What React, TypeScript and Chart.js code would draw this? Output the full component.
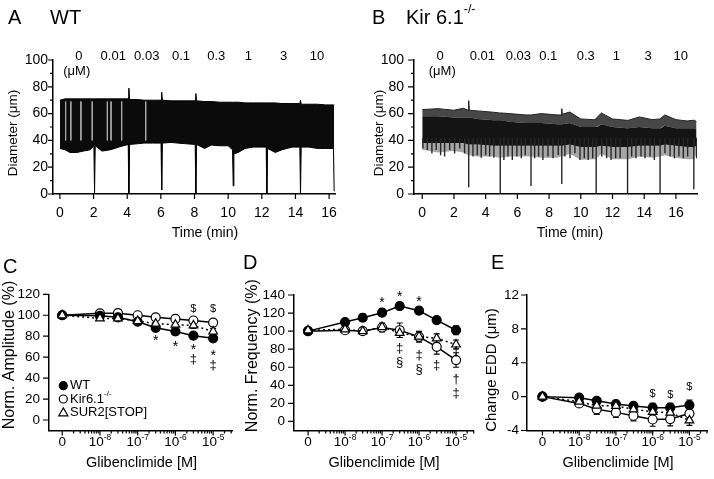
import React, { useEffect, useRef } from "react";
import { Chart, registerables } from "chart.js";

Chart.register(...registerables);

const FONT = '"Liberation Sans", Arial, Helvetica, sans-serif';

// ---------------- Panels A / B : diameter traces ----------------
const concLabels = ["0", "0.01", "0.03", "0.1", "0.3", "1", "3", "10"];
const concTimesA = [1.13, 3.17, 5.16, 7.2, 9.29, 11.2, 13.29, 15.28];
const concTimesB = [1.12, 3.79, 6.06, 7.95, 10.31, 12.24, 14.24, 16.3];
const concUnitTimeA = 1.0;
const concUnitTimeB = 1.26;
const timeTicks = [0, 2, 4, 6, 8, 10, 12, 14, 16];
const diamTicks = [0, 20, 40, 60, 80, 100];
const diamMinor = [10, 30, 50, 70, 90];

const timeA = [0, 0.3, 0.6, 1.0, 1.4, 1.8, 2.02, 2.06, 2.1, 2.5, 3.0, 3.5, 4.06, 4.1, 4.14, 4.6, 5.0, 5.5, 6.01, 6.05, 6.09, 6.6, 7.0, 7.5, 8.04, 8.08, 8.12, 8.6, 9.0, 9.5, 10.0, 10.26, 10.3, 10.34, 10.6, 11.0, 11.5, 12.26, 12.3, 12.34, 12.8, 13.2, 13.8, 14.26, 14.3, 14.34, 14.8, 15.3, 15.8, 16.26, 16.3];
const upperA = [70, 71, 71, 71, 71, 71, 71, 71, 71, 71, 71, 71, 71, 79, 70.5, 70.5, 70, 70, 70, 76, 70, 69.5, 69.5, 69.5, 69.5, 75, 69.5, 69, 69, 68.5, 68.5, 68.5, 68.5, 68.5, 68.5, 68, 68, 68, 68, 68, 68, 67.5, 67.5, 67.5, 70, 67, 67, 67, 66.5, 66.5, 66.5];
const lowerA = [34, 33, 31, 31, 32, 33, 36, 1, 36, 32, 33, 35, 37, 0, 37, 37.5, 38, 38, 38, 3, 38, 38.5, 38, 37.5, 37, 0, 37, 34, 36.5, 36, 36, 33, 6, 30, 31, 34, 35, 35, 0, 34, 31, 33, 35, 35, 0, 35, 35, 34, 34, 34, 2];
const lightLinesA = [0.34, 0.65, 1.25, 1.92, 2.82, 3.04, 3.67, 5.1];

const timeB = [0, 1.0, 2.0, 2.6, 2.89, 2.93, 2.97, 3.5, 4.5, 4.88, 4.92, 4.96, 5.5, 6.5, 6.82, 6.86, 6.9, 7.5, 8.5, 8.76, 8.8, 8.84, 9.3, 10.0, 10.8, 10.93, 10.97, 11.01, 11.3, 12.0, 12.91, 12.95, 12.99, 13.7, 14.5, 14.96, 15.0, 15.04, 15.3, 16.0, 16.7, 17.09, 17.13, 17.17, 17.3];
const peakB = [63, 63.7, 62.5, 64, 62.5, 69.7, 62.5, 62, 61, 60.5, 60.5, 60.5, 60, 59, 59, 59, 59, 60, 59, 59, 63.7, 59.5, 61.2, 56, 55.5, 56, 56, 57, 60.4, 56, 55, 55, 55, 57.5, 55.5, 56, 56, 56.5, 59, 55.5, 54.5, 55, 55, 55, 54];
const bandTopB = [58, 58, 57, 57, 57, 57, 57, 56, 55, 55, 55, 55, 54, 53, 53, 53, 53, 53, 52, 52, 52, 52, 53, 50, 50, 50, 50, 50, 52, 50, 49, 49, 49, 50, 49, 49, 49, 49, 51, 49, 49, 49, 49, 49, 48];
const bandBottomB = [38, 38, 38, 38, 37, 37, 37, 37, 36, 36, 36, 36, 36, 36, 36, 36, 36, 36, 36, 36, 36, 36, 37, 35, 35, 35, 35, 35, 36, 35, 35, 35, 35, 36, 36, 36, 36, 36, 37, 36, 35, 35, 35, 35, 36];
const troughB = [33, 31, 32, 31, 29, 29, 29, 28, 28, 27, 27, 27, 28, 28, 28, 28, 28, 27, 27, 28, 28, 28, 30, 25.5, 26, 26, 26, 27, 30, 26, 26, 26, 26, 28, 27, 28, 28, 28, 29, 27, 26, 26, 26, 26, 30];
// individual constriction strokes of the Kir6.1-/- trace (time, lowest diameter)
const strokeTimeB = [0.04, 0.32, 0.61, 0.88, 1.16, 1.41, 1.73, 2.04, 2.36, 2.67, 2.93, 3.2, 3.47, 3.72, 4.0, 4.25, 4.52, 4.92, 5.15, 5.41, 5.68, 5.97, 6.25, 6.5, 6.86, 7.09, 7.34, 7.61, 7.93, 8.25, 8.58, 8.8, 9.0, 9.32, 9.63, 9.95, 10.22, 10.47, 10.75, 10.97, 11.32, 11.63, 11.91, 12.2, 12.48, 12.95, 13.21, 13.48, 13.8, 14.05, 14.37, 14.64, 15.0, 15.31, 15.63, 15.9, 16.19, 16.47, 16.74, 17.13, 17.31];
const strokeDepthB = [34, 32.8, 30.3, 32.8, 29, 27.9, 32.8, 30.3, 34, 30.3, 5, 27.9, 29, 27, 29, 27.9, 27, 0, 25.4, 27.9, 25.4, 27.9, 26.6, 29, 6, 26.6, 27.9, 25.4, 27.9, 26.6, 29.1, 7.5, 27.9, 26.6, 30.4, 25.4, 26.6, 25.4, 26.6, 0, 27.9, 26.6, 25.4, 26.6, 26.6, 0, 27.9, 26.6, 27.9, 26.6, 27.9, 25.4, 0, 30.4, 27.9, 26.6, 27.9, 26.6, 27.9, 3.5, 26.6];

// ---------------- Panels C / D / E : glibenclimide dose responses ----------------
const glibConc = [0, 1e-8, 3e-8, 1e-7, 3e-7, 1e-6, 3e-6, 1e-5];
const glibTicks = [-9, -8, -7, -6, -5];
const glibTickBase = ["0", "10", "10", "10", "10"];
const glibTickExp = ["", "-8", "-7", "-6", "-5"];

const ampWT = [100, 99.5, 98, 93.8, 88, 84.5, 80.5, 78];
const ampWTErr = [0, 1.5, 1.5, 2, 2.5, 3, 3, 3];
const ampKir = [100, 101.8, 102, 100, 98, 96.5, 95, 93];
const ampKirErr = [0, 2, 2, 2, 3, 3, 3, 3];
const ampSUR = [100, 97, 97, 94.5, 92, 91, 90.3, 84.5];
const ampSURErr = [0, 2, 2, 2, 3, 3, 3, 3];
const ampTicks = [0, 20, 40, 60, 80, 100, 120];
const ampMarks = ["$", "$", "*", "*", "*", "*", "‡", "‡"];
const ampMarkConc = [3e-6, 1e-5, 3e-7, 1e-6, 3e-6, 1e-5, 3e-6, 1e-5];
const ampMarkY = [106.5, 106.5, 77.9, 73, 69.9, 63.5, 58, 51.7];

const freqWT = [100, 110, 114.8, 120.4, 127.8, 122.6, 112.2, 101];
const freqWTErr = [0, 3, 4, 4, 3.5, 3.5, 3, 5];
const freqKir = [100, 101, 100, 104, 101, 93.7, 82.6, 68];
const freqKirErr = [0, 2, 3, 5, 8, 6, 8, 8];
const freqSUR = [101, 102, 100, 104.5, 98, 94, 92, 85.2];
const freqSURErr = [0, 3, 3, 4, 5, 5, 5, 5];
const freqTicks = [0, 20, 40, 60, 80, 100, 120, 140];
const freqMarks = ["*", "*", "*", "‡", "§", "‡", "§", "‡", "†", "†", "‡"];
const freqMarkConc = [1e-7, 3e-7, 1e-6, 3e-7, 3e-7, 1e-6, 1e-6, 3e-6, 1e-5, 1e-5, 1e-5];
const freqMarkY = [134.4, 141.5, 135.6, 80.5, 65, 73.3, 57, 62, 77.5, 46.7, 30.7];

const eddWT = [0, -0.12, -0.5, -0.87, -1.1, -1.3, -1.3, -1.0];
const eddWTErr = [0, 0.2, 0.3, 0.3, 0.4, 0.5, 0.5, 0.6];
const eddKir = [0, -0.8, -1.5, -1.86, -2.26, -2.7, -2.65, -2.0];
const eddKirErr = [0, 0.3, 0.6, 0.6, 0.6, 0.8, 0.8, 0.8];
const eddSUR = [0, -0.6, -1.07, -1.1, -1.5, -1.8, -1.9, -2.8];
const eddSURErr = [0, 0.3, 0.4, 0.4, 0.5, 0.5, 0.6, 0.6];
const eddTicks = [-4, 0, 4, 8, 12];
const eddMarks = ["$", "$", "$"];
const eddMarkConc = [1e-6, 3e-6, 1e-5];
const eddMarkY = [0.32, 0.2, 1.2];

// ---------------- helpers ----------------
type Part = { t: string; sup?: boolean };
type Align = "left" | "center" | "right";
type TextItem = { parts: Part[]; x: number; y: number; size: number; align?: Align; rot?: number };
type DataText = { t: string; x: number; y: number; size: number };
type ErrBar = { ds: number; values: number[]; errors: number[] };
type LegendItem = { marker: "filled" | "open" | "tri"; parts: Part[] };
interface Decor {
  xMajor: number[];
  xMinor: number[];
  yMajor: number[];
  yMinor: number[];
  xMajorLen: number;
  xMinorLen: number;
  yMajorLen: number;
  yMinorLen: number;
  logLabelsY?: number;
  texts: TextItem[];
  dataTexts: DataText[];
  errorBars: ErrBar[];
  legend?: { x: number; ys: number[]; textX: number; items: LegendItem[] };
}

const xpos = (c: number) => (c === 0 ? -9 : Math.log10(c));

function logMinors(min: number, max: number) {
  const out: number[] = [];
  for (let n = -9; n <= -5; n++) {
    for (let k = 2; k <= 9; k++) {
      const v = n + Math.log10(k);
      if (v > min && v < max) out.push(v);
    }
  }
  return out;
}

function drawRich(ctx: CanvasRenderingContext2D, parts: Part[], x: number, y: number, size: number, align: Align = "center", rot = 0) {
  ctx.save();
  ctx.translate(x, y);
  if (rot) ctx.rotate(rot);
  ctx.fillStyle = "#000";
  ctx.textBaseline = "middle";
  ctx.textAlign = "left";
  const fontOf = (p: Part) => `${p.sup ? size * 0.62 : size}px ${FONT}`;
  const widths = parts.map((p) => {
    ctx.font = fontOf(p);
    return ctx.measureText(p.t).width;
  });
  const total = widths.reduce((a, b) => a + b, 0);
  let cx = align === "left" ? 0 : align === "right" ? -total : -total / 2;
  parts.forEach((p, i) => {
    ctx.font = fontOf(p);
    ctx.fillText(p.t, cx, p.sup ? -size * 0.4 : 0);
    cx += widths[i];
  });
  ctx.restore();
}

function drawMarkText(ctx: CanvasRenderingContext2D, t: string, x: number, y: number, size: number) {
  ctx.save();
  ctx.font = `${size}px ${FONT}`;
  ctx.textAlign = "center";
  ctx.textBaseline = "alphabetic";
  ctx.fillStyle = "#000";
  const m = ctx.measureText(t);
  ctx.fillText(t, x, y + (m.actualBoundingBoxAscent - m.actualBoundingBoxDescent) / 2);
  ctx.restore();
}

function drawMarker(ctx: CanvasRenderingContext2D, kind: string, x: number, y: number, r: number) {
  ctx.save();
  ctx.lineWidth = 1.2;
  ctx.strokeStyle = "#000";
  ctx.beginPath();
  if (kind === "tri") {
    ctx.moveTo(x, y - r);
    ctx.lineTo(x + r * 0.95, y + r * 0.65);
    ctx.lineTo(x - r * 0.95, y + r * 0.65);
    ctx.closePath();
    ctx.fillStyle = "#fff";
  } else {
    ctx.arc(x, y, r, 0, Math.PI * 2);
    ctx.fillStyle = kind === "filled" ? "#000" : "#fff";
  }
  ctx.fill();
  ctx.stroke();
  ctx.restore();
}

function makeDecor(d: Decor) {
  return {
    id: "decor",
    beforeDatasetsDraw(chart: any) {
      const ctx: CanvasRenderingContext2D = chart.ctx;
      const ys = chart.scales.y;
      ctx.save();
      ctx.strokeStyle = "#000";
      ctx.lineWidth = 1.1;
      d.errorBars.forEach((eb) => {
        const meta = chart.getDatasetMeta(eb.ds);
        meta.data.forEach((pt: any, i: number) => {
          const e = eb.errors[i];
          if (!e) return;
          const y1 = ys.getPixelForValue(eb.values[i] + e);
          const y2 = ys.getPixelForValue(eb.values[i] - e);
          ctx.beginPath();
          ctx.moveTo(pt.x, y1);
          ctx.lineTo(pt.x, y2);
          ctx.moveTo(pt.x - 3, y1);
          ctx.lineTo(pt.x + 3, y1);
          ctx.moveTo(pt.x - 3, y2);
          ctx.lineTo(pt.x + 3, y2);
          ctx.stroke();
        });
      });
      ctx.restore();
    },
    afterDraw(chart: any) {
      const ctx: CanvasRenderingContext2D = chart.ctx;
      const { left, bottom } = chart.chartArea;
      const xs = chart.scales.x;
      const ys = chart.scales.y;
      ctx.save();
      ctx.strokeStyle = "#000";
      ctx.lineWidth = 1.2;
      ctx.beginPath();
      const tx = (v: number, len: number) => {
        const p = xs.getPixelForValue(v);
        ctx.moveTo(p, bottom);
        ctx.lineTo(p, bottom + len);
      };
      const ty = (v: number, len: number) => {
        const p = ys.getPixelForValue(v);
        ctx.moveTo(left - len, p);
        ctx.lineTo(left, p);
      };
      d.xMajor.forEach((v) => tx(v, d.xMajorLen));
      d.xMinor.forEach((v) => tx(v, d.xMinorLen));
      d.yMajor.forEach((v) => ty(v, d.yMajorLen));
      d.yMinor.forEach((v) => ty(v, d.yMinorLen));
      ctx.stroke();
      ctx.restore();

      if (d.logLabelsY !== undefined) {
        glibTicks.forEach((v, i) => {
          const parts: Part[] = [{ t: glibTickBase[i] }];
          if (glibTickExp[i]) parts.push({ t: glibTickExp[i], sup: true });
          drawRich(ctx, parts, xs.getPixelForValue(v), d.logLabelsY as number, 13.5);
        });
      }
      d.texts.forEach((t) => drawRich(ctx, t.parts, t.x, t.y, t.size, t.align || "center", t.rot || 0));
      d.dataTexts.forEach((t) => drawMarkText(ctx, t.t, xs.getPixelForValue(t.x), ys.getPixelForValue(t.y), t.size));
      if (d.legend) {
        const lg = d.legend;
        lg.items.forEach((it, i) => {
          drawMarker(ctx, it.marker, lg.x, lg.ys[i], it.marker === "tri" ? 4.8 : 4);
          drawRich(ctx, it.parts, lg.textX, lg.ys[i], 13, "left");
        });
      }
    },
  };
}

interface AxisSpec {
  xMin: number;
  xMax: number;
  yMin: number;
  yMax: number;
  xMajor: number[];
  yMajor: number[];
  xLabels: boolean;
  xPad: number;
  yPad: number;
  yWidth: number;
  xHeight: number;
  tickSize: number;
  padding: { left: number; top: number; right: number; bottom: number };
}

function baseOptions(p: AxisSpec) {
  const tickFont = { family: FONT, size: p.tickSize };
  return {
    responsive: false,
    animation: false,
    events: [],
    layout: { padding: p.padding },
    plugins: { legend: { display: false }, tooltip: { enabled: false }, title: { display: false } },
    scales: {
      x: {
        type: "linear",
        min: p.xMin,
        max: p.xMax,
        border: { display: true, color: "#000", width: 1.5 },
        grid: { display: false, drawTicks: false },
        ticks: {
          display: p.xLabels,
          autoSkip: false,
          maxRotation: 0,
          minRotation: 0,
          padding: p.xPad,
          color: "#000",
          font: tickFont,
          callback: (v: any) => String(v),
        },
        afterBuildTicks: (s: any) => {
          s.ticks = p.xMajor.map((v) => ({ value: v }));
        },
        afterFit: (s: any) => {
          s.height = p.xHeight;
        },
      },
      y: {
        type: "linear",
        min: p.yMin,
        max: p.yMax,
        border: { display: true, color: "#000", width: 1.5 },
        grid: { display: false, drawTicks: false },
        ticks: {
          autoSkip: false,
          padding: p.yPad,
          color: "#000",
          font: tickFont,
          callback: (v: any) => String(v),
        },
        afterBuildTicks: (s: any) => {
          s.ticks = p.yMajor.map((v) => ({ value: v }));
        },
        afterFit: (s: any) => {
          s.width = p.yWidth;
        },
      },
    },
  };
}

const ptsT = (ts: number[], vs: number[]) => ts.map((t, i) => ({ x: t, y: vs[i] }));
const ptsC = (vals: number[]) => glibConc.map((c, i) => ({ x: xpos(c), y: vals[i] }));
const segments = (ts: number[], from: (i: number) => number, to: (i: number) => number) =>
  ts.flatMap((t, i) => [
    { x: t, y: from(i) },
    { x: t, y: to(i) },
    { x: t, y: null },
  ]);

function traceLine(data: any[], color: string, width: number, fill: any, bg: string, order = 0) {
  return {
    data,
    borderColor: color,
    borderWidth: width,
    pointRadius: 0,
    tension: 0,
    fill,
    backgroundColor: bg,
    spanGaps: false,
    order,
  };
}

function seriesDs(vals: number[], kind: "filled" | "open" | "tri", order: number) {
  return {
    data: ptsC(vals),
    borderColor: "#000",
    borderWidth: 1.5,
    borderDash: kind === "tri" ? [2, 3] : [],
    pointStyle: kind === "tri" ? "triangle" : "circle",
    pointRadius: kind === "tri" ? 5 : 4.5,
    pointBorderWidth: 1.2,
    pointBackgroundColor: kind === "filled" ? "#000" : "#fff",
    pointBorderColor: "#000",
    fill: false,
    tension: 0,
    order,
  };
}

function concTexts(times: number[], unitTime: number): DataText[] {
  const out: DataText[] = concLabels.map((l, i) => ({ t: l, x: times[i], y: 103, size: 13 }));
  out.push({ t: "(μM)", x: unitTime, y: 91, size: 13 });
  return out;
}

function marks(sym: string[], conc: number[], ys: number[]): DataText[] {
  const sizeOf: Record<string, number> = { "*": 14, $: 11, "‡": 13, "§": 13, "†": 13 };
  return sym.map((s, i) => ({ t: s, x: xpos(conc[i]), y: ys[i], size: sizeOf[s] || 13 }));
}

interface PanelDef {
  left: number;
  top: number;
  w: number;
  h: number;
  build: () => { config: any; decor: Decor };
}

const ROT = -Math.PI / 2;

const panels: PanelDef[] = [
  {
    left: 0,
    top: 0,
    w: 357,
    h: 250,
    build: () => ({
      config: {
        type: "line",
        data: {
          datasets: [
            traceLine(ptsT(timeA, upperA), "#000", 1, false, "transparent"),
            traceLine(ptsT(timeA, lowerA), "#000", 1, "-1", "#0b0b0b"),
            traceLine(segments(lightLinesA, () => 69, () => 40), "#a8a8a8", 1, false, "transparent", -1),
          ],
        },
        options: baseOptions({
          xMin: -0.41,
          xMax: 16.35,
          yMin: 0,
          yMax: 100,
          xMajor: timeTicks,
          yMajor: diamTicks,
          xLabels: true,
          xPad: 11,
          yPad: 5,
          yWidth: 53,
          xHeight: 50,
          tickSize: 14,
          padding: { left: 0, top: 60, right: 22, bottom: 6 },
        }),
      },
      decor: {
        xMajor: timeTicks,
        xMinor: [],
        yMajor: diamTicks,
        yMinor: diamMinor,
        xMajorLen: 5,
        xMinorLen: 3,
        yMajorLen: 5,
        yMinorLen: 3,
        texts: [
          { parts: [{ t: "A" }], x: 8, y: 18, size: 20, align: "left" },
          { parts: [{ t: "WT" }], x: 50, y: 18, size: 20, align: "left" },
          { parts: [{ t: "Diameter (μm)" }], x: 13, y: 133, size: 13.5, rot: ROT },
          { parts: [{ t: "Time (min)" }], x: 205, y: 233, size: 14 },
        ],
        dataTexts: concTexts(concTimesA, concUnitTimeA),
        errorBars: [],
      },
    }),
  },
  {
    left: 357,
    top: 0,
    w: 357,
    h: 250,
    build: () => ({
      config: {
        type: "line",
        data: {
          datasets: [
            traceLine(ptsT(timeB, peakB), "#222", 1, false, "transparent"),
            traceLine(ptsT(timeB, bandTopB), "transparent", 1, "-1", "rgba(0,0,0,0.72)"),
            traceLine(ptsT(timeB, bandBottomB), "transparent", 1, "-1", "#141414"),
            traceLine(ptsT(timeB, troughB), "transparent", 1, "-1", "rgba(0,0,0,0.35)"),
            traceLine(
              segments(strokeTimeB, () => 42, (i) => strokeDepthB[i]),
              "#262626",
              1.4,
              false,
              "transparent",
              -1
            ),
          ],
        },
        options: baseOptions({
          xMin: -0.52,
          xMax: 17.33,
          yMin: 0,
          yMax: 100,
          xMajor: timeTicks,
          yMajor: diamTicks,
          xLabels: true,
          xPad: 11,
          yPad: 10,
          yWidth: 57,
          xHeight: 50,
          tickSize: 14,
          padding: { left: 0, top: 60, right: 17, bottom: 6 },
        }),
      },
      decor: {
        xMajor: timeTicks,
        xMinor: [],
        yMajor: diamTicks,
        yMinor: diamMinor,
        xMajorLen: 5,
        xMinorLen: 3,
        yMajorLen: 6,
        yMinorLen: 3,
        texts: [
          { parts: [{ t: "B" }], x: 15, y: 18, size: 20, align: "left" },
          { parts: [{ t: "Kir 6.1" }, { t: "-/-", sup: true }], x: 49, y: 18, size: 20, align: "left" },
          { parts: [{ t: "Diameter (μm)" }], x: 22, y: 133, size: 13.5, rot: ROT },
          { parts: [{ t: "Time (min)" }], x: 213, y: 233, size: 14 },
        ],
        dataTexts: concTexts(concTimesB, concUnitTimeB),
        errorBars: [],
      },
    }),
  },
  {
    left: 0,
    top: 250,
    w: 240,
    h: 229,
    build: () => ({
      config: {
        type: "line",
        data: {
          datasets: [seriesDs(ampWT, "filled", 1), seriesDs(ampKir, "open", 2), seriesDs(ampSUR, "tri", 0)],
        },
        options: baseOptions({
          xMin: -9.35,
          xMax: -4.5,
          yMin: -10,
          yMax: 120,
          xMajor: glibTicks,
          yMajor: ampTicks,
          xLabels: false,
          xPad: 0,
          yPad: 9,
          yWidth: 49,
          xHeight: 40,
          tickSize: 13.5,
          padding: { left: 0, top: 44.3, right: 8, bottom: 8.5 },
        }),
      },
      decor: {
        xMajor: glibTicks,
        xMinor: logMinors(-9.35, -4.5),
        yMajor: ampTicks,
        yMinor: [],
        xMajorLen: 5,
        xMinorLen: 3,
        yMajorLen: 6,
        yMinorLen: 3,
        logLabelsY: 192.7,
        texts: [
          { parts: [{ t: "C" }], x: 3, y: 17, size: 20, align: "left" },
          { parts: [{ t: "Norm. Amplitude (%)" }], x: 10, y: 105, size: 16, rot: ROT },
          { parts: [{ t: "Glibenclimide [M]" }], x: 141.5, y: 213, size: 14.5 },
        ],
        dataTexts: marks(ampMarks, ampMarkConc, ampMarkY),
        errorBars: [
          { ds: 0, values: ampWT, errors: ampWTErr },
          { ds: 1, values: ampKir, errors: ampKirErr },
          { ds: 2, values: ampSUR, errors: ampSURErr },
        ],
        legend: {
          x: 63.3,
          ys: [135.7, 149, 162.7],
          textX: 70,
          items: [
            { marker: "filled", parts: [{ t: "WT" }] },
            { marker: "open", parts: [{ t: "Kir6.1" }, { t: "-/-", sup: true }] },
            { marker: "tri", parts: [{ t: "SUR2[STOP]" }] },
          ],
        },
      },
    }),
  },
  {
    left: 240,
    top: 250,
    w: 240,
    h: 229,
    build: () => ({
      config: {
        type: "line",
        data: {
          datasets: [seriesDs(freqWT, "filled", 1), seriesDs(freqKir, "open", 2), seriesDs(freqSUR, "tri", 0)],
        },
        options: baseOptions({
          xMin: -9.38,
          xMax: -4.52,
          yMin: -10,
          yMax: 140,
          xMajor: glibTicks,
          yMajor: freqTicks,
          xLabels: false,
          xPad: 0,
          yPad: 9,
          yWidth: 54,
          xHeight: 40,
          tickSize: 13.5,
          padding: { left: 0, top: 45, right: 3, bottom: 8.5 },
        }),
      },
      decor: {
        xMajor: glibTicks,
        xMinor: logMinors(-9.38, -4.52),
        yMajor: freqTicks,
        yMinor: [],
        xMajorLen: 5,
        xMinorLen: 3,
        yMajorLen: 6,
        yMinorLen: 3,
        logLabelsY: 192.7,
        texts: [
          { parts: [{ t: "D" }], x: 3, y: 13.7, size: 20, align: "left" },
          { parts: [{ t: "Norm. Frequency (%)" }], x: 13, y: 105.7, size: 16, rot: ROT },
          { parts: [{ t: "Glibenclimide [M]" }], x: 144, y: 213, size: 14.5 },
        ],
        dataTexts: marks(freqMarks, freqMarkConc, freqMarkY),
        errorBars: [
          { ds: 0, values: freqWT, errors: freqWTErr },
          { ds: 1, values: freqKir, errors: freqKirErr },
          { ds: 2, values: freqSUR, errors: freqSURErr },
        ],
      },
    }),
  },
  {
    left: 474,
    top: 250,
    w: 240,
    h: 229,
    build: () => ({
      config: {
        type: "line",
        data: {
          datasets: [seriesDs(eddWT, "filled", 1), seriesDs(eddKir, "open", 2), seriesDs(eddSUR, "tri", 0)],
        },
        options: baseOptions({
          xMin: -9.42,
          xMax: -4.5,
          yMin: -4,
          yMax: 12,
          xMajor: glibTicks,
          yMajor: eddTicks,
          xLabels: false,
          xPad: 0,
          yPad: 8,
          yWidth: 53,
          xHeight: 40,
          tickSize: 13.5,
          padding: { left: 0, top: 45, right: 3, bottom: 8.5 },
        }),
      },
      decor: {
        xMajor: glibTicks,
        xMinor: logMinors(-9.42, -4.5),
        yMajor: eddTicks,
        yMinor: [],
        xMajorLen: 5,
        xMinorLen: 3,
        yMajorLen: 6,
        yMinorLen: 3,
        logLabelsY: 192.7,
        texts: [
          { parts: [{ t: "E" }], x: 17, y: 13.7, size: 20, align: "left" },
          { parts: [{ t: "Change EDD (μm)" }], x: 18, y: 120, size: 15, rot: ROT },
          { parts: [{ t: "Glibenclimide [M]" }], x: 144, y: 213, size: 14.5 },
        ],
        dataTexts: marks(eddMarks, eddMarkConc, eddMarkY),
        errorBars: [
          { ds: 0, values: eddWT, errors: eddWTErr },
          { ds: 1, values: eddKir, errors: eddKirErr },
          { ds: 2, values: eddSUR, errors: eddSURErr },
        ],
      },
    }),
  },
];

function ChartPanel({ def }: { def: PanelDef }) {
  const ref = useRef<HTMLCanvasElement>(null);
  useEffect(() => {
    const { config, decor } = def.build();
    config.plugins = [makeDecor(decor)];
    const chart = new Chart(ref.current as HTMLCanvasElement, config);
    return () => chart.destroy();
  }, [def]);
  return (
    <canvas
      ref={ref}
      width={def.w}
      height={def.h}
      style={{ position: "absolute", left: def.left, top: def.top, width: def.w, height: def.h, display: "block" }}
    />
  );
}

export default function App() {
  return (
    <div style={{ position: "absolute", left: 0, top: 0, width: 714, height: 479, background: "#fff", overflow: "hidden" }}>
      {panels.map((p, i) => (
        <ChartPanel key={i} def={p} />
      ))}
    </div>
  );
}
